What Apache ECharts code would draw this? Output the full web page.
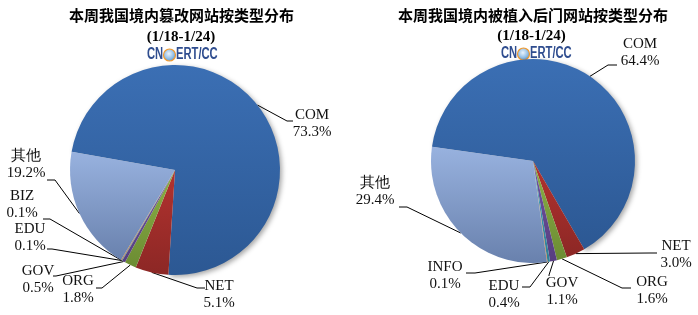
<!DOCTYPE html>
<html><head><meta charset="utf-8">
<script src="https://cdn.jsdelivr.net/npm/echarts@6/dist/echarts.min.js"></script>
<style>html,body{margin:0;padding:0;background:#fff}#c{width:698px;height:315px}</style>
</head><body><div id="c"></div>
<script>
// ---- data ----
const leftTitle = '本周我国境内篡改网站按类型分布';
const rightTitle = '本周我国境内被植入后门网站按类型分布';
const dateRange = '(1/18-1/24)';
const leftCategories = ['COM', 'NET', 'ORG', 'GOV', 'EDU', 'BIZ', '其他'];
const leftValues = [73.3, 5.1, 1.8, 0.5, 0.1, 0.1, 19.2];
const rightCategories = ['COM', 'NET', 'ORG', 'GOV', 'EDU', 'INFO', '其他'];
const rightValues = [64.4, 3.0, 1.6, 1.1, 0.4, 0.1, 29.4];

// ---- styles / layout ----
const sliceColors = {
  COM: ['#3B6FB4', '#2C5893'],
  NET: ['#B3332F', '#8C2725'],
  ORG: ['#8BB046', '#6C8C33'],
  GOV: ['#7153A1', '#573E80'],
  EDU: ['#3FA3BF', '#2F7F96'],
  BIZ: ['#F0913A', '#C8702A'],
  INFO: ['#F0913A', '#C8702A'],
  '其他': ['#98B2DF', '#6981AD']
};
const leftLabelPos = [[312, 124], [219, 295], [78, 290], [38, 280], [30, 238], [22, 205], [26, 165]];
const leftLinePts = [[[287, 121], [293, 121]], [[197, 288], [205, 288]], [[102, 288], [96, 288]],
  [[56, 276], [53, 276]], [[52, 249], [47, 249]], [[50, 219], [43, 219]], [[55, 180], [47, 180]]];
const rightLabelPos = [[640, 53], [676, 255], [652, 291], [562, 292], [504, 295], [445, 276], [375, 192]];
const rightLinePts = [[[608, 65], [617, 65]], [[650, 253], [657, 253]], [[622, 288], [631, 288]],
  [[549, 275], [549, 276]], [[530, 287], [522, 287]], [[475, 273], [466, 273]], [[407, 207], [399, 207]]];

function grad(name) {
  const c = sliceColors[name];
  return new echarts.graphic.LinearGradient(0, 0, 0, 1, [
    { offset: 0, color: c[0] }, { offset: 1, color: c[1] }
  ]);
}

function makeSeries(cats, vals, center, radius, startAngle, labelPos, linePts) {
  return {
    type: 'pie',
    center: center,
    radius: radius,
    startAngle: startAngle,
    clockwise: true,
    avoidLabelOverlap: false,
    silent: true,
    animation: false,
    itemStyle: { borderWidth: 0 },
    data: cats.map((n, i) => {
      const it = { color: grad(n) };
      if (i === 0) {
        it.shadowBlur = 5; it.shadowOffsetX = 2; it.shadowOffsetY = 2; it.shadowColor = 'rgba(0,0,0,0.35)';
      }
      return { name: n, value: vals[i], itemStyle: it };
    }),
    label: {
      show: true,
      position: 'outside',
      formatter: p => p.name + '\n' + p.value.toFixed(1) + '%',
      fontFamily: '"Liberation Serif", "Times New Roman", serif',
      fontSize: 15,
      lineHeight: 17,
      color: '#111',
      align: 'center'
    },
    labelLine: { show: true, length: 8, length2: 8, smooth: false, lineStyle: { color: '#000', width: 1 } },
    labelLayout: function (p) {
      const pos = labelPos[p.dataIndex];
      const pts = linePts[p.dataIndex];
      const res = { x: pos[0], y: pos[1], align: 'center', verticalAlign: 'middle' };
      if (p.labelLinePoints && p.labelLinePoints[0]) {
        res.labelLinePoints = [p.labelLinePoints[0], pts[0], pts[1]];
      }
      return res;
    }
  };
}

function makeLogo(x, y) {
  const font = 'bold 16px "Liberation Sans", Arial, sans-serif';
  const col = '#2F4D8F';
  return {
    type: 'group', x: x, y: y,
    children: [
      { type: 'text', x: 0, y: 0, scaleX: 0.7, style: { text: 'CN', font: font, fill: col, align: 'left', verticalAlign: 'middle' } },
      { type: 'circle', shape: { cx: 22.5, cy: 0, r: 6 },
        style: { fill: new echarts.graphic.RadialGradient(0.45, 0.4, 0.7, [
          { offset: 0, color: '#EAF3FC' }, { offset: 0.55, color: '#8FBDE6' }, { offset: 1, color: '#3C7CC0' }]),
          stroke: '#F29A2E', lineWidth: 1.2 } },
      { type: 'text', x: 29, y: 0, scaleX: 0.7, style: { text: 'ERT/CC', font: font, fill: col, align: 'left', verticalAlign: 'middle' } }
    ]
  };
}

const chart = echarts.init(document.getElementById('c'), null, { renderer: 'canvas' });
chart.setOption({
  backgroundColor: '#fff',
  animation: false,
  graphic: [
    { type: 'text', x: 181.5, y: 15, style: { text: leftTitle, font: 'bold 15px "Noto Sans CJK SC", sans-serif', fill: '#000', align: 'center', verticalAlign: 'middle' } },
    { type: 'text', x: 181, y: 37, style: { text: dateRange, font: 'bold 15px "Liberation Serif", serif', fill: '#000', align: 'center', verticalAlign: 'middle' } },
    makeLogo(147, 55),
    { type: 'text', x: 533, y: 15, style: { text: rightTitle, font: 'bold 15px "Noto Sans CJK SC", sans-serif', fill: '#000', align: 'center', verticalAlign: 'middle' } },
    { type: 'text', x: 531.5, y: 36, style: { text: dateRange, font: 'bold 15px "Liberation Serif", serif', fill: '#000', align: 'center', verticalAlign: 'middle' } },
    makeLogo(501, 54)
  ],
  series: [
    makeSeries(leftCategories, leftValues, [175, 170], 105, 170, leftLabelPos, leftLinePts),
    makeSeries(rightCategories, rightValues, [533, 161], 102, 172, rightLabelPos, rightLinePts)
  ]
});
</script>
</body></html>
